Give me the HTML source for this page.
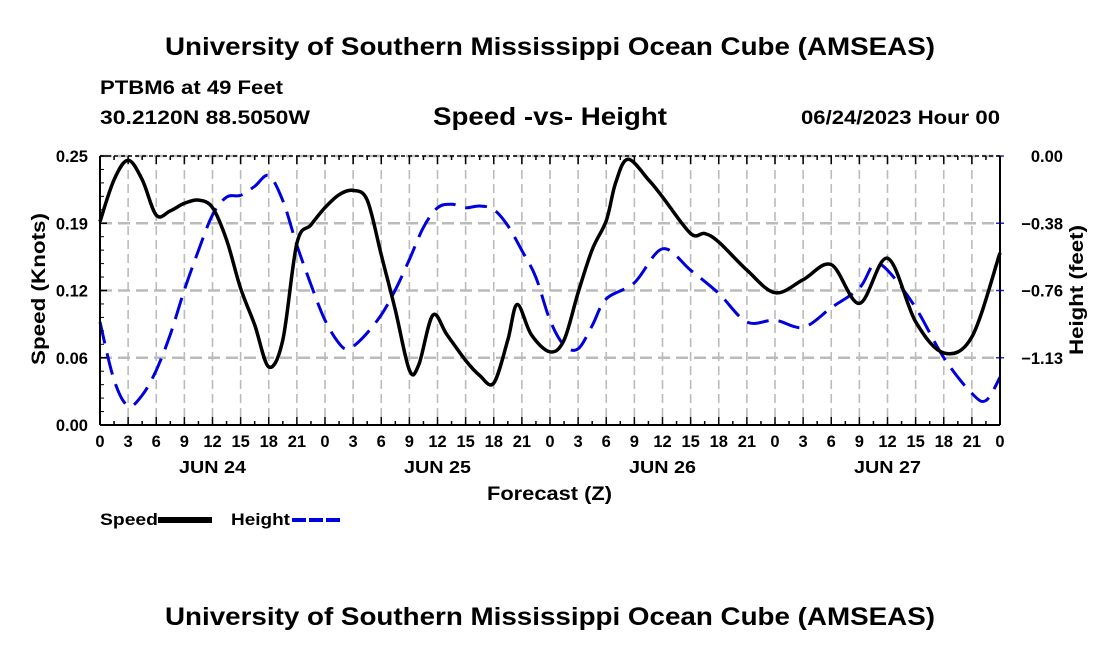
<!DOCTYPE html>
<html><head><meta charset="utf-8"><style>
html,body{margin:0;padding:0;background:#fff;}
svg text{font-family:"Liberation Sans",Arial,sans-serif;font-weight:bold;fill:#000;}
</style></head><body>
<svg id="chart" width="1100" height="650" viewBox="0 0 1100 650" xmlns="http://www.w3.org/2000/svg">
<rect width="1100" height="650" fill="#fff"/>
<text x="165" y="55" font-size="25" textLength="770" lengthAdjust="spacingAndGlyphs">University of Southern Mississippi Ocean Cube (AMSEAS)</text>
<text x="100" y="94" font-size="19" textLength="183" lengthAdjust="spacingAndGlyphs">PTBM6 at 49 Feet</text>
<text x="100" y="124" font-size="19" textLength="210" lengthAdjust="spacingAndGlyphs">30.2120N  88.5050W</text>
<text x="433" y="125" font-size="25" textLength="234" lengthAdjust="spacingAndGlyphs">Speed -vs- Height</text>
<text x="801" y="124" font-size="19" textLength="199" lengthAdjust="spacingAndGlyphs">06/24/2023 Hour 00</text>
<g id="grid"></g>
<g id="series"></g>
<g id="axes"></g>
<text transform="translate(45,289) rotate(-90)" font-size="19" text-anchor="middle" textLength="152" lengthAdjust="spacingAndGlyphs">Speed (Knots)</text>
<text transform="translate(1083,290) rotate(-90)" font-size="19" text-anchor="middle" textLength="130" lengthAdjust="spacingAndGlyphs">Height (feet)</text>
<text x="487" y="500" font-size="19" textLength="125" lengthAdjust="spacingAndGlyphs">Forecast (Z)</text>
<g>
<text x="100" y="525" font-size="17" textLength="58" lengthAdjust="spacingAndGlyphs">Speed</text>
<line x1="158" y1="520" x2="212" y2="520" stroke="#000" stroke-width="6"/>
<text x="231" y="525" font-size="17" textLength="59" lengthAdjust="spacingAndGlyphs">Height</text>
<line x1="292" y1="520" x2="343" y2="520" stroke="#0000dd" stroke-width="4" stroke-dasharray="14,3"/>
</g>
<text x="165" y="625" font-size="25" textLength="770" lengthAdjust="spacingAndGlyphs">University of Southern Mississippi Ocean Cube (AMSEAS)</text>
</svg>
<script>
const speedHours=[0,1.5,3,4.5,6,7.5,9,10.5,12,13.5,15,16.5,18,19.5,21,22.5,24,25.5,27,28.5,30,31.5,33,34,35.5,37,39,40.5,42,43.5,44.5,46,48,49.5,51,52.5,54,55,56.3,58.5,60,63,64.5,66,69,72,75,78,81,84,87,90,93,96];
const speedValues=[.189,.228,.246,.228,.195,.199,.206,.209,.202,.172,.127,.093,.054,.079,.169,.186,.202,.214,.218,.209,.158,.107,.051,.056,.102,.084,.060,.046,.039,.079,.112,.084,.068,.079,.123,.163,.190,.225,.247,.228,.212,.178,.178,.170,.144,.123,.135,.149,.113,.155,.096,.067,.082,.160];
const heightHours=[0,1.5,3,4.5,6,7.5,9,10.5,12,13.5,15,16.5,18,19.5,21,22.5,24,25.5,26.5,28,30,31.5,33,34.5,36,37.5,39,40.5,42,43.5,45,46.5,48,49.5,51,52.5,54,57,60,63,66,69,72,75,78,81,82.5,84,87,90,93,94.5,96];
const heightValues=[-0.93,-1.255,-1.40,-1.34,-1.20,-1.00,-0.75,-0.53,-0.33,-0.23,-0.22,-0.17,-0.11,-0.25,-0.50,-0.72,-0.92,-1.05,-1.08,-1.02,-0.89,-0.75,-0.58,-0.40,-0.29,-0.27,-0.29,-0.28,-0.30,-0.39,-0.53,-0.68,-0.92,-1.06,-1.08,-0.95,-0.80,-0.71,-0.52,-0.64,-0.77,-0.93,-0.92,-0.96,-0.85,-0.74,-0.61,-0.64,-0.85,-1.13,-1.33,-1.37,-1.24];
const xTickLabels=["0","3","6","9","12","15","18","21"];
const dayLabels=["JUN 24","JUN 25","JUN 26","JUN 27"];
const speedTicks=["0.00","0.06","0.12","0.19","0.25"];
const heightTicks=["0.00","-0.38","-0.76","-1.13"];

const NS="http://www.w3.org/2000/svg";
const L=100,R=1000,T=156,B=425;
const SMAX=0.25,HMIN=-1.507;
const xs=h=>L+h/96*(R-L);
const ys=v=>B-v/SMAX*(B-T);
const yh=v=>T+v/HMIN*(B-T);
function mk(tag,attrs,parent){const e=document.createElementNS(NS,tag);for(const k in attrs)e.setAttribute(k,attrs[k]);parent.appendChild(e);return e;}
const grid=document.getElementById('grid'),axes=document.getElementById('axes'),ser=document.getElementById('series');
for(let i=1;i<32;i++){const x=xs(i*3);
const g=mk('line',{x1:x,y1:T,x2:x,y2:B,stroke:'#bbb','stroke-width':1.6,'stroke-dasharray':'9,5'},grid);

}
for(let i=0;i<speedTicks.length;i++){const y=B-i*(B-T)/4;
if(i>0){const g=mk('line',{x1:L,y1:y,x2:R,y2:y,stroke:'#bbb','stroke-width':2.4,'stroke-dasharray':'12,6'},grid);

}
const t=mk('text',{x:L-12,y:y+6,'font-size':16.5,'text-anchor':'end'},axes);t.textContent=speedTicks[i];


mk('line',{x1:L,y1:y,x2:L+7,y2:y,stroke:'#000','stroke-width':1.5},axes);}
for(let i=1;i<20;i++){if(i%5==0)continue;const y=B-i*(B-T)/20;mk('line',{x1:L,y1:y,x2:L+4,y2:y,stroke:'#000','stroke-width':1},axes);}
for(let i=0;i<heightTicks.length;i++){const y=T+i*(B-T)/4;
mk('line',{x1:R-4,y1:y,x2:R+4,y2:y,stroke:'#2222dd','stroke-width':1.5},axes);
const t=mk('text',{x:1063,y:y+6,'font-size':16.5,'text-anchor':'end'},axes);t.textContent=heightTicks[i].replace('-','\u2212');

}
mk('line',{x1:L,y1:T,x2:R,y2:T,stroke:'#000','stroke-width':1.5,'stroke-dasharray':'4,3'},axes);
mk('line',{x1:L,y1:B,x2:R,y2:B,stroke:'#000','stroke-width':2}, axes);
mk('line',{x1:L,y1:T,x2:L,y2:B,stroke:'#000','stroke-width':2},axes);
mk('line',{x1:R,y1:T,x2:R,y2:B,stroke:'#000','stroke-width':2},axes);
for(let i=0;i<=64;i++){const x=xs(i*1.5),len=i%2==0?8:4;
mk('line',{x1:x,y1:B,x2:x,y2:B-len,stroke:'#000','stroke-width':1.5},axes);
mk('line',{x1:x,y1:T,x2:x,y2:T+len,stroke:'#000','stroke-width':1.5},axes);}
for(let i=0;i<=32;i++){const t=mk('text',{x:xs(i*3),y:B+22,'font-size':16.5,'text-anchor':'middle'},axes);t.textContent=xTickLabels[i%8];

}
for(let d=0;d<dayLabels.length;d++){const t=mk('text',{x:xs(d*24+12),y:B+48,'font-size':17.5,'text-anchor':'middle',textLength:67,lengthAdjust:'spacingAndGlyphs'},axes);t.textContent=dayLabels[d];

}
function path(pts){let d='M'+pts[0][0]+','+pts[0][1];
for(let i=0;i<pts.length-1;i++){const p0=pts[Math.max(0,i-1)],p1=pts[i],p2=pts[i+1],p3=pts[Math.min(pts.length-1,i+2)];
const c1=[p1[0]+(p2[0]-p0[0])/6,p1[1]+(p2[1]-p0[1])/6],c2=[p2[0]-(p3[0]-p1[0])/6,p2[1]-(p3[1]-p1[1])/6];
d+=' C'+c1[0].toFixed(1)+','+c1[1].toFixed(1)+' '+c2[0].toFixed(1)+','+c2[1].toFixed(1)+' '+p2[0].toFixed(1)+','+p2[1].toFixed(1);}
return d;}
const hp=mk('path',{d:path(heightHours.map((h,i)=>[xs(h),yh(heightValues[i])])),fill:'none',stroke:'#0000dd','stroke-width':3,'stroke-dasharray':'22,10'},ser);


const sp=mk('path',{d:path(speedHours.map((h,i)=>[xs(h),ys(speedValues[i])])),fill:'none',stroke:'#000','stroke-width':3.5,'stroke-linejoin':'round'},ser);


</script>
</body></html>
